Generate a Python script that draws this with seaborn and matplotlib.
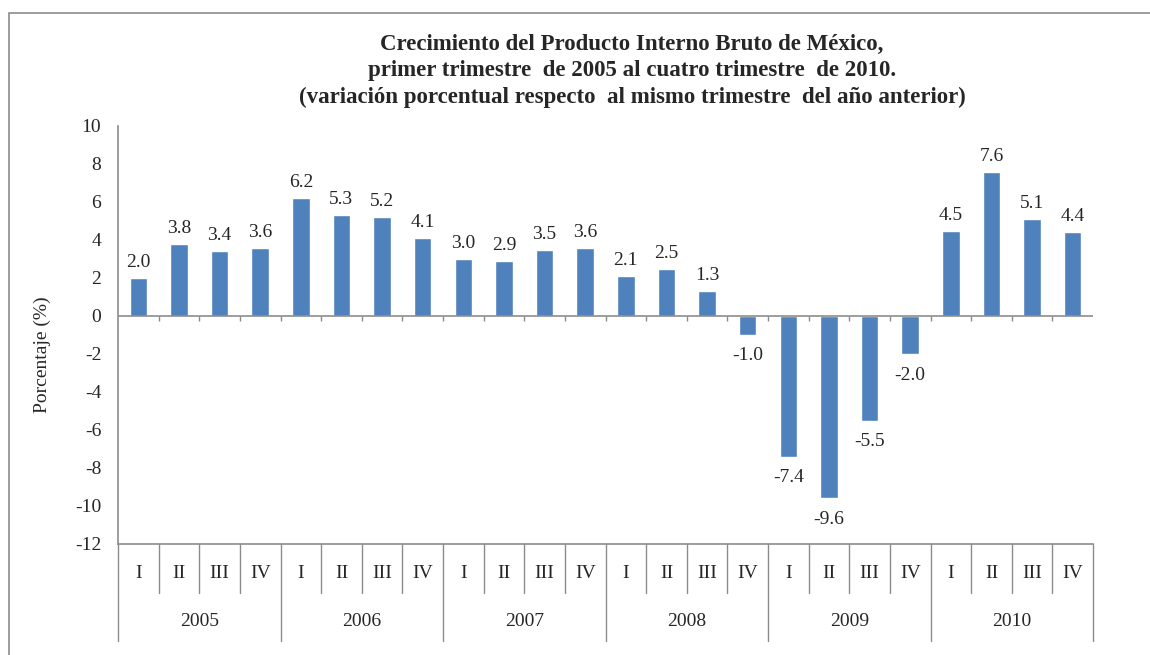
import matplotlib
matplotlib.use("Agg")
import matplotlib.pyplot as plt
import matplotlib.patches as mpatches
import pandas as pd
import seaborn as sns

# Datos: variación porcentual anual del PIB por trimestre
years = ["2005", "2006", "2007", "2008", "2009", "2010"]
quarters = ["I", "II", "III", "IV"]
pib_2005 = [2.0, 3.8, 3.4, 3.6]
pib_2006 = [6.2, 5.3, 5.2, 4.1]
pib_2007 = [3.0, 2.9, 3.5, 3.6]
pib_2008 = [2.1, 2.5, 1.3, -1.0]
pib_2009 = [-7.4, -9.6, -5.5, -2.0]
pib_2010 = [4.5, 7.6, 5.1, 4.4]
y_ticks = list(range(-12, 11, 2))

values = pib_2005 + pib_2006 + pib_2007 + pib_2008 + pib_2009 + pib_2010
df = pd.DataFrame({
    "periodo": [f"{y}-{q}" for y in years for q in quarters],
    "anio": [y for y in years for q in quarters],
    "trimestre": [q for y in years for q in quarters],
    "pib": values,
})

sns.set_style("white")
plt.rcParams["font.family"] = ["Liberation Serif", "DejaVu Serif"]
fs = 14

fig = plt.figure(figsize=(11.5, 6.55), dpi=100)
ax = fig.add_axes([118 / 1150, 1 - 544 / 655, (1093 - 118) / 1150, (544 - 126) / 655])

sns.barplot(data=df, x="periodo", y="pib", color="#4F81BD", width=0.43,
            saturation=1, ax=ax)

gray = "#8c8c8c"
ax.set_ylim(-12, 10)
ax.set_xlim(-0.5, len(df) - 0.5)
ax.set_yticks(y_ticks)
ax.set_yticklabels([str(t) for t in y_ticks], fontsize=fs)
ax.tick_params(axis="y", direction="out", length=5, color=gray, width=1, pad=7)
ax.tick_params(axis="x", length=0, labelbottom=False)
ax.set_xlabel("")
ax.set_ylabel("")
for s in ["top", "right"]:
    ax.spines[s].set_visible(False)
for s in ["left", "bottom"]:
    ax.spines[s].set_color(gray)
    ax.spines[s].set_linewidth(1.2)

# línea del cero con marcas entre categorías
ax.axhline(0, color=gray, lw=1.2, zorder=1)
ax.vlines([i - 0.5 for i in range(1, len(df))], -0.28, 0, color=gray, lw=1)

# etiquetas de datos
for i, v in enumerate(df["pib"]):
    if v >= 0:
        ax.annotate(f"{v:.1f}", (i, v), xytext=(0, 5), textcoords="offset points",
                    ha="center", va="bottom", fontsize=fs)
    else:
        ax.annotate(f"{v:.1f}", (i, v), xytext=(0, -9), textcoords="offset points",
                    ha="center", va="top", fontsize=fs)

# eje de categorías en dos niveles
tr = ax.get_xaxis_transform()
q_low = -(593 - 544) / 418
y_low = -(641 - 544) / 418
for i in range(len(df) + 1):
    bottom = y_low if i % 4 == 0 else q_low
    ax.plot([i - 0.5, i - 0.5], [0, bottom], transform=tr, color=gray, lw=1,
            clip_on=False)
for i, q in enumerate(df["trimestre"]):
    ax.text(i, -(573 - 544) / 418, q, transform=tr, ha="center", va="center",
            fontsize=fs)
for k, y in enumerate(years):
    ax.text(4 * k + 1.5, -(622 - 544) / 418, y, transform=tr, ha="center",
            va="center", fontsize=fs)

fig.text(42 / 1150, 1 - 355 / 655, "Porcentaje (%)", rotation=90, ha="center",
         va="center", fontsize=fs)

titulo = ("Crecimiento del Producto Interno Bruto de México,\n"
          "primer trimestre  de 2005 al cuatro trimestre  de 2010.\n"
          "(variación porcentual respecto  al mismo trimestre  del año anterior)")
fig.text(632 / 1150, 1 - 71 / 655, titulo, ha="center", va="center",
         fontsize=16.5, fontweight="bold", linespacing=1.32)

# marco exterior del gráfico
fig.patches.append(mpatches.Rectangle((9 / 1150, -0.05), 1.1, 1 - 13 / 655 + 0.05,
                                      transform=fig.transFigure, fill=False,
                                      edgecolor=gray, lw=1.2))

fig.savefig("out.png", dpi=100)
